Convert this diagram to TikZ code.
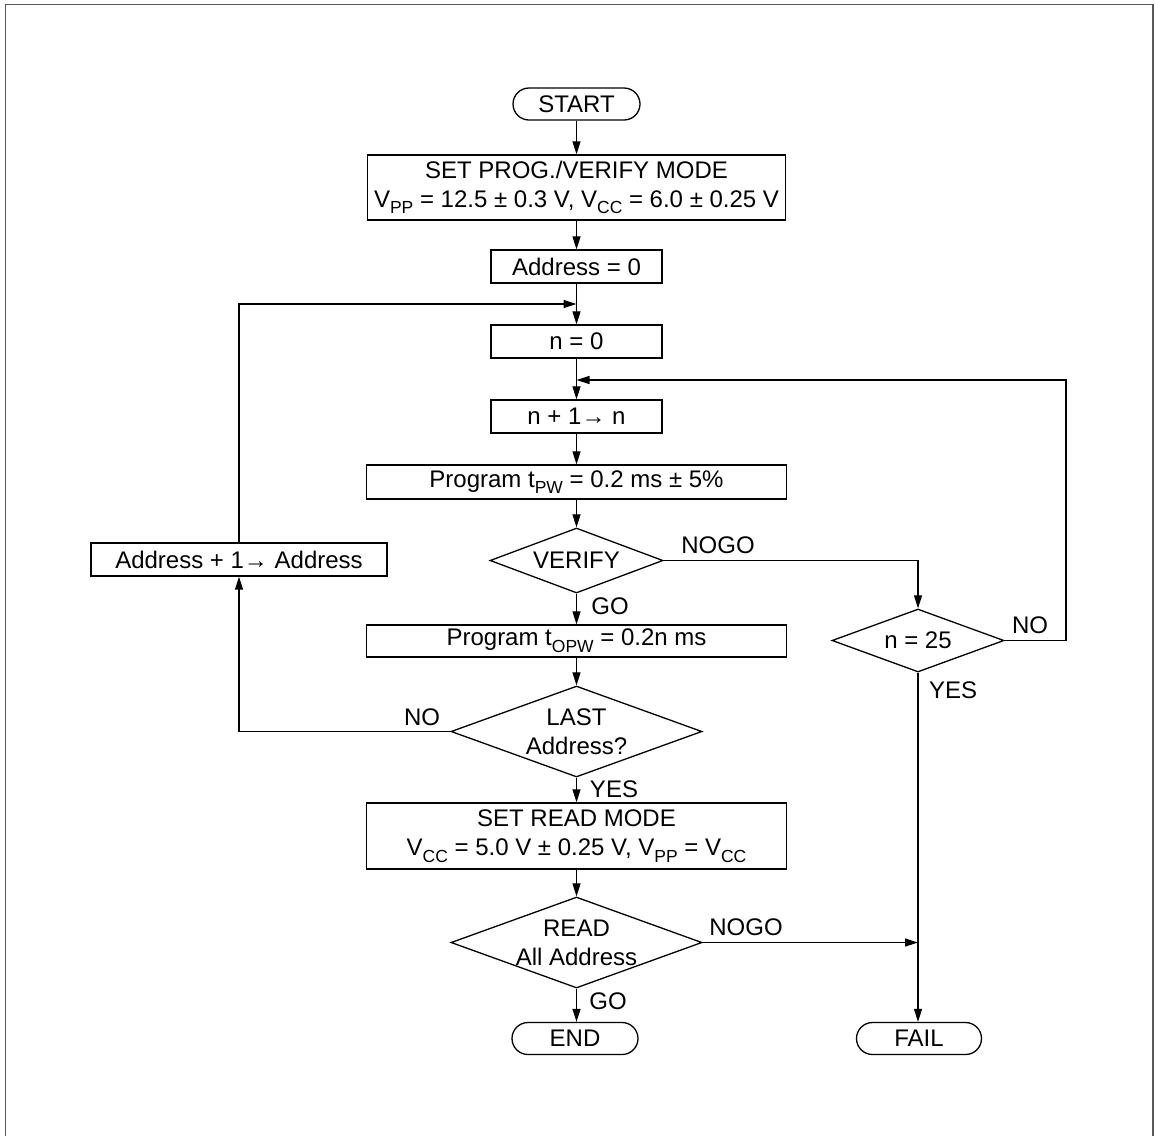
\documentclass[tikz,border=0pt]{standalone}
\usepackage{fontspec}
\setmainfont{Liberation Sans}
\usetikzlibrary{arrows.meta,shapes.geometric,shapes.misc}
\newcommand\subtx[1]{\raisebox{-0.28em}{\fontsize{17.5}{17.5}\selectfont #1}}
\begin{document}
\begin{tikzpicture}[x=1pt,y=-1pt,
  every node/.style={font=\fontsize{24}{29}\selectfont, inner sep=0pt},
  box/.style={draw, line width=1.3pt, minimum height=33pt},
  term/.style={draw, rounded rectangle, line width=1.3pt, minimum width=127pt, minimum height=32pt},
  dia/.style={draw, diamond, line width=1.3pt},
  conn/.style={line width=1.2pt, -{Triangle[length=13pt,width=8pt]}},
  frameline/.style={line width=1.8pt, black!65}
]
\useasboundingbox (0,0) rectangle (1155,1136);
\draw[frameline] (5.5,1136) -- (5.5,4.5) -- (1153,4.5) -- (1153,1136);

\node[term] (start) at (576.5,104) {START};
\node[box, minimum width=418pt, minimum height=65pt, align=center] (setprog) at (576.5,187.5)
  {SET PROG./VERIFY MODE\\V\subtx{PP} = 12.5 ± 0.3 V, V\subtx{CC} = 6.0 ± 0.25 V};
\node[box, minimum width=171pt] (addr0) at (576.5,266.5) {Address = 0};
\node[box, minimum width=171pt] (n0) at (576.5,341.5) {n = 0};
\node[box, minimum width=171pt] (ninc) at (576.5,416.5) {n + 1→ n};
\node[box, minimum width=420pt, minimum height=34pt] (prog) at (576.5,482) {Program t\subtx{PW} = 0.2 ms ± 5\%};
\node[dia, minimum width=173pt, minimum height=65pt] (verify) at (576.5,560.5) {};
\node (verifyt) at (verify) {VERIFY};
\node[box, minimum width=420pt, minimum height=32pt] (progo) at (576.5,641) {Program t\subtx{OPW} = 0.2n ms};
\node[dia, minimum width=251pt, minimum height=91pt] (last) at (576.5,731.5) {};
\node[align=center] (lastt) at (last) {LAST\\Address?};
\node[box, minimum width=420pt, minimum height=66pt, align=center] (setread) at (576.5,836)
  {SET READ MODE\\V\subtx{CC} = 5.0 V ± 0.25 V, V\subtx{PP} = V\subtx{CC}};
\node[dia, minimum width=251pt, minimum height=91pt] (read) at (576.5,942.5) {};
\node[align=center] (readt) at (read) {READ\\All Address};
\node[term, minimum width=126pt] (end) at (575,1038.5) {END};
\node[term, minimum width=125pt] (fail) at (919,1038.5) {FAIL};
\node[dia, minimum width=172pt, minimum height=63pt] (n25) at (918,640.5) {};
\node (n25t) at (n25) {n = 25};
\node[box, minimum width=296pt] (addrinc) at (239,559.5) {Address + 1→ Address};

\coordinate (j1) at (576.5,304);
\coordinate (j2) at (576.5,380);
\coordinate (j3) at (918,942.5);
\coordinate (rno) at (1066,640.5);

\draw[conn] (start.south) -- (setprog.north);
\draw[conn] (setprog.south) -- (addr0.north);
\draw[conn] (addr0.south) -- (n0.north);
\draw[conn] (addrinc.north) |- (j1);
\draw[conn] (n0.south) -- (ninc.north);
\draw[conn] (n25.east) -- (rno) |- (j2);
\draw[conn] (ninc.south) -- (prog.north);
\draw[conn] (prog.south) -- (verify.north);
\draw[conn] (verify.east) -| (n25.north);
\draw[conn] (verify.south) -- (progo.north);
\draw[conn] (progo.south) -- (last.north);
\draw[conn] (last.west) -| (addrinc.south);
\draw[conn] (last.south) -- (setread.north);
\draw[conn] (setread.south) -- (read.north);
\draw[conn] (read.south) -- (read.south |- end.north);
\draw[conn] (read.east) -- (j3);
\draw[conn] (n25.south) -- (n25.south |- fail.north);

\node (l1) at (718,545) {NOGO};
\node (l2) at (610,606) {GO};
\node (l3) at (1030,625) {NO};
\node (l4) at (953,690) {YES};
\node (l5) at (422,717) {NO};
\node (l6) at (614,789) {YES};
\node (l7) at (746,927) {NOGO};
\node (l8) at (608,1001) {GO};
\end{tikzpicture}
\end{document}
